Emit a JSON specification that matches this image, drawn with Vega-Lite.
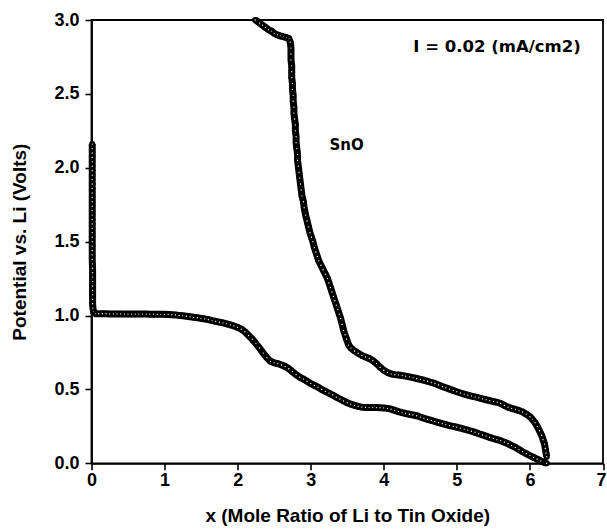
{
"$schema": "https://vega.github.io/schema/vega-lite/v6.json",
"autosize": {"type": "none"},
"padding": {"left": 91.5, "top": 20, "right": 4, "bottom": 65.7},
"width": 511.5,
"height": 443.3,
"background": "white",
"config": {
  "view": {"stroke": "black", "strokeWidth": 1.8},
  "axis": {"domainColor": "black", "domainWidth": 1.8, "tickColor": "black", "tickWidth": 1.6, "labelFont": "Liberation Sans", "labelFontWeight": "bold", "labelFontSize": 18, "labelColor": "black", "titleFont": "Liberation Sans", "titleFontWeight": "bold", "titleFontSize": 19, "titleColor": "black", "grid": false, "labelOverlap": false, "labelFlush": false}
},
"datasets": {
"curve": [
{"s":"d","x":0.01,"y":2.16},{"s":"d","x":0.01,"y":2.13},{"s":"d","x":0.01,"y":2.10},{"s":"d","x":0.01,"y":2.07},{"s":"d","x":0.01,"y":2.04},{"s":"d","x":0.01,"y":2.01},{"s":"d","x":0.01,"y":1.98},{"s":"d","x":0.01,"y":1.95},{"s":"d","x":0.01,"y":1.92},{"s":"d","x":0.01,"y":1.89},{"s":"d","x":0.01,"y":1.86},{"s":"d","x":0.01,"y":1.83},{"s":"d","x":0.01,"y":1.80},{"s":"d","x":0.01,"y":1.77},{"s":"d","x":0.01,"y":1.74},{"s":"d","x":0.01,"y":1.71},{"s":"d","x":0.01,"y":1.68},{"s":"d","x":0.01,"y":1.65},{"s":"d","x":0.01,"y":1.62},{"s":"d","x":0.01,"y":1.59},{"s":"d","x":0.01,"y":1.56},{"s":"d","x":0.01,"y":1.53},{"s":"d","x":0.01,"y":1.50},{"s":"d","x":0.01,"y":1.47},{"s":"d","x":0.01,"y":1.44},{"s":"d","x":0.01,"y":1.41},{"s":"d","x":0.01,"y":1.38},{"s":"d","x":0.012,"y":1.35},{"s":"d","x":0.014,"y":1.32},{"s":"d","x":0.015,"y":1.29},{"s":"d","x":0.015,"y":1.26},{"s":"d","x":0.015,"y":1.23},{"s":"d","x":0.015,"y":1.20},{"s":"d","x":0.015,"y":1.17},{"s":"d","x":0.015,"y":1.14},{"s":"d","x":0.015,"y":1.11},{"s":"d","x":0.015,"y":1.08},{"s":"d","x":0.02,"y":1.05},{"s":"d","x":0.03,"y":1.025},
{"s":"d","x":0.06,"y":1.012},{"s":"d","x":0.1,"y":1.012},{"s":"d","x":0.15,"y":1.012},{"s":"d","x":0.2,"y":1.012},{"s":"d","x":0.25,"y":1.011},{"s":"d","x":0.3,"y":1.011},{"s":"d","x":0.35,"y":1.011},{"s":"d","x":0.4,"y":1.011},{"s":"d","x":0.45,"y":1.01},{"s":"d","x":0.5,"y":1.01},{"s":"d","x":0.55,"y":1.01},{"s":"d","x":0.6,"y":1.01},{"s":"d","x":0.65,"y":1.01},{"s":"d","x":0.7,"y":1.01},{"s":"d","x":0.75,"y":1.01},{"s":"d","x":0.8,"y":1.009},{"s":"d","x":0.85,"y":1.009},{"s":"d","x":0.9,"y":1.008},{"s":"d","x":0.95,"y":1.008},{"s":"d","x":1.0,"y":1.008},{"s":"d","x":1.05,"y":1.007},{"s":"d","x":1.1,"y":1.006},{"s":"d","x":1.15,"y":1.004},{"s":"d","x":1.2,"y":1.001},
{"s":"d","x":1.25,"y":0.998},{"s":"d","x":1.3,"y":0.995},{"s":"d","x":1.35,"y":0.992},{"s":"d","x":1.4,"y":0.988},{"s":"d","x":1.45,"y":0.985},{"s":"d","x":1.5,"y":0.981},{"s":"d","x":1.55,"y":0.977},{"s":"d","x":1.6,"y":0.972},{"s":"d","x":1.65,"y":0.966},{"s":"d","x":1.7,"y":0.96},{"s":"d","x":1.75,"y":0.955},{"s":"d","x":1.8,"y":0.95},{"s":"d","x":1.85,"y":0.944},{"s":"d","x":1.9,"y":0.937},{"s":"d","x":1.95,"y":0.929},{"s":"d","x":2.0,"y":0.92},{"s":"d","x":2.05,"y":0.908},{"s":"d","x":2.1,"y":0.89},{"s":"d","x":2.15,"y":0.865},{"s":"d","x":2.2,"y":0.84},{"s":"d","x":2.25,"y":0.81},{"s":"d","x":2.3,"y":0.78},{"s":"d","x":2.35,"y":0.746},{"s":"d","x":2.4,"y":0.715},{"s":"d","x":2.45,"y":0.69},{"s":"d","x":2.5,"y":0.68},{"s":"d","x":2.55,"y":0.675},{"s":"d","x":2.6,"y":0.665},{"s":"d","x":2.65,"y":0.655},{"s":"d","x":2.7,"y":0.64},{"s":"d","x":2.75,"y":0.62},{"s":"d","x":2.8,"y":0.6},{"s":"d","x":2.85,"y":0.583},{"s":"d","x":2.9,"y":0.57},{"s":"d","x":2.95,"y":0.555},{"s":"d","x":3.0,"y":0.54},{"s":"d","x":3.05,"y":0.527},{"s":"d","x":3.1,"y":0.515},{"s":"d","x":3.15,"y":0.5},{"s":"d","x":3.2,"y":0.487},{"s":"d","x":3.25,"y":0.475},{"s":"d","x":3.3,"y":0.462},{"s":"d","x":3.35,"y":0.448},{"s":"d","x":3.4,"y":0.435},{"s":"d","x":3.45,"y":0.422},{"s":"d","x":3.5,"y":0.41},{"s":"d","x":3.55,"y":0.4},{"s":"d","x":3.6,"y":0.392},{"s":"d","x":3.65,"y":0.385},{"s":"d","x":3.7,"y":0.38},{"s":"d","x":3.75,"y":0.378},{"s":"d","x":3.8,"y":0.377},{"s":"d","x":3.85,"y":0.377},{"s":"d","x":3.9,"y":0.377},{"s":"d","x":3.95,"y":0.376},{"s":"d","x":4.0,"y":0.375},{"s":"d","x":4.05,"y":0.372},{"s":"d","x":4.1,"y":0.366},{"s":"d","x":4.15,"y":0.358},{"s":"d","x":4.2,"y":0.35},{"s":"d","x":4.25,"y":0.343},{"s":"d","x":4.3,"y":0.337},{"s":"d","x":4.35,"y":0.332},{"s":"d","x":4.4,"y":0.327},{"s":"d","x":4.45,"y":0.322},{"s":"d","x":4.5,"y":0.313},{"s":"d","x":4.55,"y":0.305},{"s":"d","x":4.6,"y":0.297},{"s":"d","x":4.65,"y":0.29},{"s":"d","x":4.7,"y":0.283},{"s":"d","x":4.75,"y":0.275},{"s":"d","x":4.8,"y":0.268},{"s":"d","x":4.85,"y":0.262},{"s":"d","x":4.9,"y":0.255},{"s":"d","x":4.95,"y":0.25},{"s":"d","x":5.0,"y":0.244},{"s":"d","x":5.05,"y":0.238},{"s":"d","x":5.1,"y":0.231},{"s":"d","x":5.15,"y":0.225},{"s":"d","x":5.2,"y":0.217},{"s":"d","x":5.25,"y":0.21},{"s":"d","x":5.3,"y":0.2},{"s":"d","x":5.35,"y":0.192},{"s":"d","x":5.4,"y":0.184},{"s":"d","x":5.45,"y":0.175},{"s":"d","x":5.5,"y":0.167},{"s":"d","x":5.55,"y":0.16},{"s":"d","x":5.6,"y":0.153},{"s":"d","x":5.65,"y":0.143},{"s":"d","x":5.7,"y":0.132},{"s":"d","x":5.75,"y":0.12},{"s":"d","x":5.8,"y":0.108},{"s":"d","x":5.85,"y":0.093},{"s":"d","x":5.9,"y":0.078},{"s":"d","x":5.95,"y":0.065},{"s":"d","x":6.0,"y":0.052},{"s":"d","x":6.05,"y":0.04},{"s":"d","x":6.1,"y":0.028},{"s":"d","x":6.15,"y":0.016},{"s":"d","x":6.2,"y":0.006},{"s":"d","x":6.23,"y":0.0},
{"s":"c","x":6.23,"y":0.045},{"s":"c","x":6.22,"y":0.07},{"s":"c","x":6.21,"y":0.1},{"s":"c","x":6.2,"y":0.13},{"s":"c","x":6.18,"y":0.16},{"s":"c","x":6.16,"y":0.19},{"s":"c","x":6.13,"y":0.22},{"s":"c","x":6.1,"y":0.25},{"s":"c","x":6.07,"y":0.275},{"s":"c","x":6.03,"y":0.3},{"s":"c","x":6.0,"y":0.315},{"s":"c","x":5.95,"y":0.333},{"s":"c","x":5.9,"y":0.347},{"s":"c","x":5.85,"y":0.357},{"s":"c","x":5.8,"y":0.365},{"s":"c","x":5.75,"y":0.372},{"s":"c","x":5.7,"y":0.38},{"s":"c","x":5.65,"y":0.392},{"s":"c","x":5.6,"y":0.405},{"s":"c","x":5.55,"y":0.413},{"s":"c","x":5.5,"y":0.418},{"s":"c","x":5.45,"y":0.424},{"s":"c","x":5.4,"y":0.43},{"s":"c","x":5.35,"y":0.436},{"s":"c","x":5.3,"y":0.443},{"s":"c","x":5.25,"y":0.449},{"s":"c","x":5.2,"y":0.455},{"s":"c","x":5.15,"y":0.461},{"s":"c","x":5.1,"y":0.468},{"s":"c","x":5.05,"y":0.476},{"s":"c","x":5.0,"y":0.484},{"s":"c","x":4.95,"y":0.493},{"s":"c","x":4.9,"y":0.502},{"s":"c","x":4.85,"y":0.511},{"s":"c","x":4.8,"y":0.52},{"s":"c","x":4.75,"y":0.53},{"s":"c","x":4.7,"y":0.54},{"s":"c","x":4.65,"y":0.547},{"s":"c","x":4.6,"y":0.555},{"s":"c","x":4.55,"y":0.562},{"s":"c","x":4.5,"y":0.568},{"s":"c","x":4.45,"y":0.574},{"s":"c","x":4.4,"y":0.58},{"s":"c","x":4.35,"y":0.585},{"s":"c","x":4.3,"y":0.59},{"s":"c","x":4.25,"y":0.594},{"s":"c","x":4.2,"y":0.598},{"s":"c","x":4.15,"y":0.6},{"s":"c","x":4.1,"y":0.605},{"s":"c","x":4.05,"y":0.615},{"s":"c","x":4.0,"y":0.63},{"s":"c","x":3.95,"y":0.65},{"s":"c","x":3.9,"y":0.675},{"s":"c","x":3.85,"y":0.695},{"s":"c","x":3.8,"y":0.71},{"s":"c","x":3.75,"y":0.72},{"s":"c","x":3.7,"y":0.73},{"s":"c","x":3.65,"y":0.745},{"s":"c","x":3.6,"y":0.76},{"s":"c","x":3.55,"y":0.78},{"s":"c","x":3.52,"y":0.8},{"s":"c","x":3.49,"y":0.84},{"s":"c","x":3.47,"y":0.87},{"s":"c","x":3.45,"y":0.9},{"s":"c","x":3.43,"y":0.94},{"s":"c","x":3.41,"y":0.98},{"s":"c","x":3.39,"y":1.01},{"s":"c","x":3.37,"y":1.04},{"s":"c","x":3.35,"y":1.07},{"s":"c","x":3.33,"y":1.1},{"s":"c","x":3.31,"y":1.13},{"s":"c","x":3.29,"y":1.16},{"s":"c","x":3.27,"y":1.19},{"s":"c","x":3.25,"y":1.22},{"s":"c","x":3.23,"y":1.25},{"s":"c","x":3.2,"y":1.28},{"s":"c","x":3.17,"y":1.31},{"s":"c","x":3.14,"y":1.34},{"s":"c","x":3.11,"y":1.37},{"s":"c","x":3.09,"y":1.4},{"s":"c","x":3.07,"y":1.43},{"s":"c","x":3.05,"y":1.46},{"s":"c","x":3.03,"y":1.5},{"s":"c","x":3.01,"y":1.53},{"s":"c","x":2.99,"y":1.56},{"s":"c","x":2.97,"y":1.6},{"s":"c","x":2.95,"y":1.64},{"s":"c","x":2.93,"y":1.68},{"s":"c","x":2.91,"y":1.73},{"s":"c","x":2.9,"y":1.77},{"s":"c","x":2.88,"y":1.81},{"s":"c","x":2.87,"y":1.85},{"s":"c","x":2.86,"y":1.89},{"s":"c","x":2.85,"y":1.93},{"s":"c","x":2.84,"y":1.97},{"s":"c","x":2.83,"y":2.01},{"s":"c","x":2.82,"y":2.05},{"s":"c","x":2.82,"y":2.09},{"s":"c","x":2.81,"y":2.13},{"s":"c","x":2.8,"y":2.17},{"s":"c","x":2.8,"y":2.21},{"s":"c","x":2.79,"y":2.25},{"s":"c","x":2.79,"y":2.29},{"s":"c","x":2.78,"y":2.33},{"s":"c","x":2.77,"y":2.37},{"s":"c","x":2.77,"y":2.41},{"s":"c","x":2.76,"y":2.45},{"s":"c","x":2.76,"y":2.49},{"s":"c","x":2.75,"y":2.53},{"s":"c","x":2.75,"y":2.57},{"s":"c","x":2.74,"y":2.61},{"s":"c","x":2.74,"y":2.65},{"s":"c","x":2.74,"y":2.69},{"s":"c","x":2.73,"y":2.73},{"s":"c","x":2.73,"y":2.77},{"s":"c","x":2.73,"y":2.81},{"s":"c","x":2.72,"y":2.85},{"s":"c","x":2.7,"y":2.875},{"s":"c","x":2.66,"y":2.882},{"s":"c","x":2.62,"y":2.887},{"s":"c","x":2.58,"y":2.893},{"s":"c","x":2.54,"y":2.9},{"s":"c","x":2.5,"y":2.91},{"s":"c","x":2.46,"y":2.925},{"s":"c","x":2.42,"y":2.935},{"s":"c","x":2.38,"y":2.95},{"s":"c","x":2.34,"y":2.965},{"s":"c","x":2.3,"y":2.98},{"s":"c","x":2.26,"y":2.995},{"s":"c","x":2.24,"y":3.0}
],
"notes": [{"label": "I = 0.02 (mA/cm2)", "k": "a"}, {"label": "SnO", "k": "b"}]
},
"layer": [
  {"data": {"name": "curve"}, "mark": {"type": "line", "color": "black", "strokeWidth": 7},
   "encoding": {
     "x": {"field": "x", "type": "quantitative", "scale": {"domain": [0, 7], "nice": false, "zero": false},
        "axis": {"values": [0,0.5,1,1.5,2,2.5,3,3.5,4,4.5,5,5.5,6,6.5,7],
                 "labelExpr": "datum.value % 1 ? '' : format(datum.value, 'd')",
                 "tickSize": {"condition": {"test": "datum.value % 1", "value": 3.5}, "value": 6.5},
                 "labelAlign": {"condition": {"test": "datum.value == 7", "value": "right"}, "value": "center"},
                 "labelOffset": {"condition": {"test": "datum.value == 7", "value": 3}, "value": 0},
                 "labelPadding": 2, "title": "x (Mole Ratio of Li to Tin Oxide)", "titleBaseline": "alphabetic", "titleY": 58}},
     "y": {"field": "y", "type": "quantitative", "scale": {"domain": [0, 3], "nice": false},
        "axis": {"values": [0,0.25,0.5,0.75,1,1.25,1.5,1.75,2,2.25,2.5,2.75,3],
                 "labelExpr": "datum.value % 0.5 ? '' : format(datum.value, '.1f')",
                 "tickSize": {"condition": {"test": "datum.value % 0.5", "value": 3.5}, "value": 6.5},
                 "labelPadding": 6, "title": "Potential vs. Li (Volts)", "titleX": -62}},
     "detail": {"field": "s"}, "order": {"value": null}}},
  {"data": {"name": "curve"}, "mark": {"type": "point", "shape": "circle", "filled": true, "color": "white", "fillOpacity": 1, "stroke": "black", "strokeWidth": 2.4, "size": 14, "opacity": 1},
   "encoding": {"x": {"field": "x", "type": "quantitative"}, "y": {"field": "y", "type": "quantitative"}}},
  {"data": {"name": "notes"}, "transform": [{"filter": "datum.k == 'a'"}],
   "mark": {"type": "text", "font": "DejaVu Sans", "fontWeight": "bold", "fontSize": 16.5, "color": "black", "align": "center", "baseline": "middle"},
   "encoding": {"x": {"datum": 5.55, "type": "quantitative"}, "y": {"datum": 2.82, "type": "quantitative"}, "text": {"field": "label"}}},
  {"data": {"name": "notes"}, "transform": [{"filter": "datum.k == 'b'"}],
   "mark": {"type": "text", "font": "DejaVu Sans", "fontWeight": "bold", "fontSize": 15, "color": "black", "align": "center", "baseline": "middle"},
   "encoding": {"x": {"datum": 3.49, "type": "quantitative"}, "y": {"datum": 2.153, "type": "quantitative"}, "text": {"field": "label"}}}
]
}
